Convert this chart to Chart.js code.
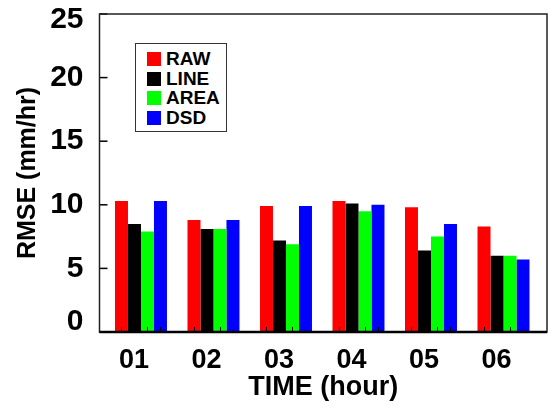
<!DOCTYPE html>
<html lang="en">
<head>
<meta charset="UTF-8">
<title>RMSE by hour</title>
<script src="https://cdn.jsdelivr.net/npm/chart.js"></script>
<style>
    body { margin: 0; background: #fff; }
    #wrap { position: relative; width: 548px; height: 410px; }
    #legend {
        position: absolute; left: 135px; top: 43px; width: 90px; height: 87px;
        border: 1.5px solid #333; background: #fff;
        font: bold 19px "Liberation Sans", Arial, sans-serif; color: #000;
    }
    #legend div { position: absolute; left: 11px; height: 20px; line-height: 20px; white-space: nowrap; }
    #legend span { display: inline-block; width: 14px; height: 14px; vertical-align: -1px; margin-right: 5px; }
</style>
</head>
<body>
<div id="wrap">
    <canvas id="chart" width="548" height="410"></canvas>
    <div id="legend"></div>
</div>
<script>
const categories = ['01', '02', '03', '04', '05', '06'];
const seriesNames = ['RAW', 'LINE', 'AREA', 'DSD'];
const rawVals = [10.3, 8.8, 9.9, 10.3, 9.8, 8.3];
const lineVals = [8.5, 8.1, 7.2, 10.1, 6.4, 6.0];
const areaVals = [7.9, 8.1, 6.9, 9.5, 7.5, 6.0];
const dsdVals = [10.3, 8.8, 9.9, 10.0, 8.5, 5.7];
const yTicks = [0, 5, 10, 15, 20, 25];

const colors = ['#ff0000', '#000000', '#00ff00', '#0000ff'];
const allVals = [rawVals, lineVals, areaVals, dsdVals];
const FONT = '"Liberation Sans", Arial, sans-serif';

const datasets = allVals.map((vals, k) => ({
    label: seriesNames[k],
    data: vals.map((v, i) => ({ x: i + 1, y: v })),
    backgroundColor: colors[k],
    borderWidth: 0,
    categoryPercentage: 0.717,
    barPercentage: 1.0
}));

// the end labels of the y axis sit inside the axis range, as in the original
const endLabels = {
    id: 'endLabels',
    beforeDraw(chart) {
        const items = chart.scales.y.getLabelItems(chart.chartArea);
        if (!items.length || items._shifted) return;
        items[0].options.translation[1] -= 10;
        items[items.length - 1].options.translation[1] += 6;
        items._shifted = true;
    }
};

// frame, inward ticks on y, little ticks at each bar
const framePlugin = {
    id: 'frame',
    afterDatasetsDraw(chart) {
        const ctx = chart.ctx;
        const a = chart.chartArea;
        const y = chart.scales.y;
        ctx.save();
        ctx.strokeStyle = '#000';
        ctx.lineWidth = 1;
        chart.data.datasets.forEach((ds, k) => {
            chart.getDatasetMeta(k).data.forEach(bar => {
                ctx.beginPath();
                ctx.moveTo(Math.round(bar.x) + 0.5, a.bottom);
                ctx.lineTo(Math.round(bar.x) + 0.5, a.bottom - 5);
                ctx.stroke();
            });
        });
        ctx.lineWidth = 1.5;
        yTicks.forEach(t => {
            const py = y.getPixelForValue(t);
            ctx.beginPath();
            ctx.moveTo(a.left, py);
            ctx.lineTo(a.left + 8, py);
            ctx.stroke();
        });
        ctx.strokeStyle = '#222';
        ctx.strokeRect(a.left, a.top, a.right - a.left, a.bottom - a.top);
        ctx.lineWidth = 2.5;
        ctx.strokeStyle = '#000';
        ctx.beginPath();
        ctx.moveTo(a.left, a.bottom);
        ctx.lineTo(a.right, a.bottom);
        ctx.stroke();
        ctx.restore();
    }
};

new Chart(document.getElementById('chart'), {
    type: 'bar',
    data: { datasets: datasets },
    options: {
        responsive: false,
        animation: false,
        layout: { padding: { top: 14, right: 1, left: 0, bottom: 0 } },
        plugins: { legend: { display: false }, tooltip: { enabled: false } },
        scales: {
            x: {
                type: 'linear',
                offset: false,
                min: 0.428,
                max: 6.6,
                grid: { display: false },
                border: { display: false },
                afterBuildTicks: s => { s.ticks = categories.map((c, i) => ({ value: i + 1 })); },
                afterFit: s => { s.height = 78; s.paddingLeft = 0; s.paddingRight = 0; },
                ticks: {
                    autoSkip: false,
                    maxRotation: 0,
                    padding: 4,
                    labelOffset: -7,
                    color: '#000',
                    font: { family: FONT, size: 27, weight: 'bold' },
                    callback: v => categories[v - 1]
                },
                title: {
                    display: true,
                    text: 'TIME (hour)',
                    color: '#000',
                    padding: { top: 0, bottom: 6 },
                    font: { family: FONT, size: 27, weight: 'bold' }
                }
            },
            y: {
                min: 0,
                max: 25,
                grid: { display: false },
                border: { display: false },
                afterBuildTicks: s => { s.ticks = yTicks.map(v => ({ value: v })); },
                afterFit: s => { s.width = 99.5; s.paddingTop = 0; s.paddingBottom = 0; },
                ticks: {
                    padding: 8,
                    color: '#000',
                    font: { family: FONT, size: 30, weight: 'bold' }
                },
                title: {
                    display: true,
                    text: 'RMSE (mm/hr)',
                    color: '#000',
                    padding: { top: 13, bottom: 0 },
                    font: { family: FONT, size: 25, weight: 'bold' }
                }
            }
        }
    },
    plugins: [endLabels, framePlugin]
});

// legend built from the series names and colours
const legend = document.getElementById('legend');
seriesNames.forEach((name, k) => {
    const row = document.createElement('div');
    row.style.top = (5 + k * 19.5) + 'px';
    row.innerHTML = '<span style="background:' + colors[k] + '"></span>' + name;
    legend.appendChild(row);
});
</script>
</body>
</html>
